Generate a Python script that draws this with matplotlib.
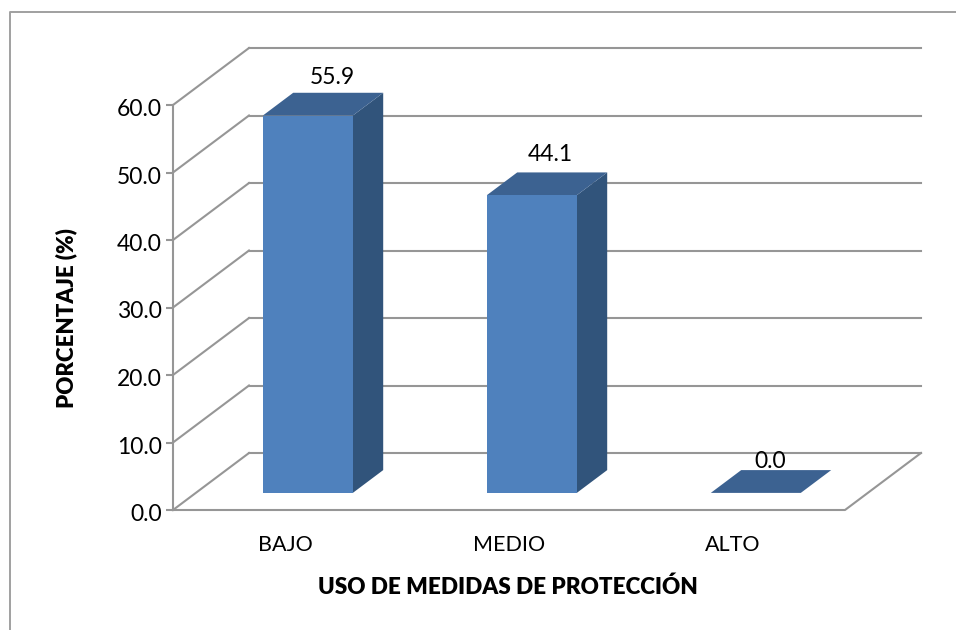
import matplotlib
matplotlib.use("Agg")
import matplotlib.pyplot as plt
from matplotlib.patches import Polygon
from matplotlib.lines import Line2D
from matplotlib.transforms import ScaledTranslation

categories = ["BAJO", "MEDIO", "ALTO"]
values = [55.9, 44.1, 0.0]
value_labels = ["55.9", "44.1", "0.0"]
y_ticks = [0, 10, 20, 30, 40, 50, 60]
y_tick_labels = ["0.0", "10.0", "20.0", "30.0", "40.0", "50.0", "60.0"]
y_title = "PORCENTAJE (%)"
x_title = "USO DE MEDIDAS DE PROTECCIÓN"

W, H = 956, 630
plt.rcParams["font.family"] = ["Lato", "DejaVu Sans"]
fig = plt.figure(figsize=(W / 100, H / 100), dpi=100)
fig.patch.set_facecolor("white")

L, R, T, B = 173, 845, 105, 510
ax = fig.add_axes([L / W, 1 - B / H, (R - L) / W, (B - T) / H])
ax.set_xlim(-0.5, 2.5)
ax.set_ylim(0, 60)
ax.patch.set_alpha(0)
for s in ("top", "right", "bottom"):
    ax.spines[s].set_visible(False)
GRID = "#969696"
LW = 1.5
ax.spines["left"].set_color(GRID)
ax.spines["left"].set_linewidth(LW)

DX = 76 / ((R - L) / 3)   # depth offset in category units
DY = 57 / ((B - T) / 60)  # depth offset in value units
HALF = 45 / ((R - L) / 3)
D0, D1 = 0.3, 0.7

for v in y_ticks:
    ax.plot([-0.5, -0.5 + DX], [v, v + DY], color=GRID, lw=LW, clip_on=False, zorder=1)
    ax.plot([-0.5 + DX, 2.5 + DX], [v + DY, v + DY], color=GRID, lw=LW, clip_on=False, zorder=1)
ax.plot([-0.5, 2.5, 2.5 + DX], [0, 0, DY], color=GRID, lw=LW, clip_on=False, zorder=1)

FRONT, SIDE, TOP = "#4f81bd", "#31547b", "#3c6291"
label_shift = [(9, 15), (3, 18), (-1, 9)]  # label centre relative to the top face, in pixels
for i, v in enumerate(values):
    x0 = i - HALF + D0 * DX
    x1 = i + HALF + D0 * DX
    y0 = D0 * DY
    y1 = v + D0 * DY
    ddx = (D1 - D0) * DX
    ddy = (D1 - D0) * DY
    ax.add_patch(Polygon([(x1, y0), (x1 + ddx, y0 + ddy), (x1 + ddx, y1 + ddy), (x1, y1)],
                         fc=SIDE, ec="none", clip_on=False, zorder=3))
    ax.add_patch(Polygon([(x0, y1), (x1, y1), (x1 + ddx, y1 + ddy), (x0 + ddx, y1 + ddy)],
                         fc=TOP, ec="none", clip_on=False, zorder=3))
    if v > 0:
        ax.add_patch(Polygon([(x0, y0), (x1, y0), (x1, y1), (x0, y1)],
                             fc=FRONT, ec="none", clip_on=False, zorder=3))
    sx, sy = label_shift[i]
    ax.annotate(value_labels[i], xy=(i + D0 * DX + ddx / 2, y1 + ddy),
                xytext=(sx * 0.72, sy * 0.72), textcoords="offset points",
                ha="center", va="center", fontsize=16.5, color="black",
                zorder=4, annotation_clip=False)

ax.set_yticks(y_ticks)
ax.set_yticklabels(y_tick_labels, fontsize=16.5)
ax.tick_params(axis="y", length=5, width=LW, color=GRID, pad=3)
shift = ScaledTranslation(0, -2.5 / 100, fig.dpi_scale_trans)
for lab in ax.get_yticklabels():
    lab.set_transform(lab.get_transform() + shift)
ax.set_xticks(range(len(categories)))
ax.set_xticklabels(categories, fontsize=15.5)
ax.tick_params(axis="x", length=0, pad=18)

fig.text(66 / W, 1 - 318 / H, y_title, rotation=90, ha="center", va="center",
         fontsize=16, fontweight=800)
fig.text(507.5 / W, 1 - 587 / H, x_title, ha="center", va="center",
         fontsize=16.2, fontweight=800)

fig.add_artist(Line2D([10 / W, 10 / W, 1], [0, 1 - 12 / H, 1 - 12 / H],
                      color="#a0a0a0", lw=1.4, transform=fig.transFigure))

fig.savefig("out.png", dpi=100)
